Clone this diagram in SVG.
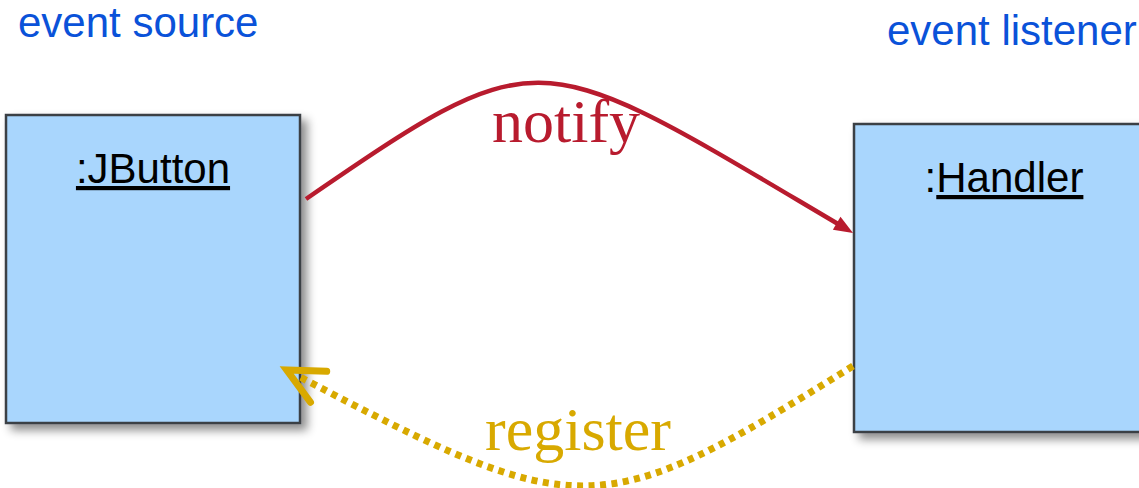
<svg xmlns="http://www.w3.org/2000/svg" width="1139" height="488" viewBox="0 0 1139 488">
  <defs>
    <filter id="shadow" x="-10%" y="-10%" width="130%" height="130%">
      <feDropShadow dx="6" dy="6" stdDeviation="5" flood-color="#000" flood-opacity="0.45"/>
    </filter>
    <marker id="head-solid" markerUnits="userSpaceOnUse" markerWidth="40" markerHeight="40" viewBox="-20 -20 40 40" refX="0" refY="0" orient="auto" overflow="visible">
      <path d="M12,0 L-7,-7.5 L-7,7.5 Z" fill="#b81b2e"/>
    </marker>
    <marker id="head-open" markerUnits="userSpaceOnUse" markerWidth="80" markerHeight="80" viewBox="-40 -40 80 80" refX="0" refY="0" orient="auto" overflow="visible">
      <path d="M-21,-17.5 L15,0 L-21,17.5" fill="none" stroke="#d8a900" stroke-width="7" stroke-linecap="round" stroke-linejoin="miter"/>
    </marker>
  </defs>
  <style>
    .obj { fill: #a9d6fd; stroke: #3b3f45; stroke-width: 2.5; filter: url(#shadow); }
    .name { font-family: "Liberation Sans", Arial, sans-serif; font-size: 42px; fill: #000; text-anchor: middle; }
    .role { font-family: "Liberation Sans", Arial, sans-serif; font-size: 42px; fill: #0a52d9; }
    .msg { font-family: "Liberation Serif", "Times New Roman", serif; font-size: 62px; text-anchor: middle; }
    .notify { fill: none; stroke: #b81b2e; stroke-width: 4.5; }
    .register { fill: none; stroke: #d8a900; stroke-width: 7; stroke-dasharray: 6 5.5; }
  </style>

  <rect width="1139" height="488" fill="#fff"/>

  <!-- role captions -->
  <text class="role" x="18" y="37">event source</text>
  <text class="role" x="887" y="45">event listener</text>

  <!-- objects -->
  <g id="jbutton">
    <rect class="obj" x="6" y="115" width="294" height="308"/>
    <text class="name" x="153" y="183" text-decoration="underline">:JButton</text>
  </g>
  <g id="handler">
    <rect class="obj" x="854" y="124" width="300" height="308"/>
    <text class="name" x="1004" y="192">:<tspan text-decoration="underline">Handler</tspan></text>
  </g>

  <!-- messages -->
  <g id="connectors">
    <path class="notify" d="M306,199 C545,35 535,45 842.7,226.8" marker-end="url(#head-solid)"/>
    <text class="msg" x="566" y="142" fill="#b81b2e">notify</text>
    <path class="register" d="M853,366 C600,524 580,524 300,377" marker-end="url(#head-open)"/>
    <text class="msg" x="578" y="450" fill="#d8a900">register</text>
  </g>
</svg>
